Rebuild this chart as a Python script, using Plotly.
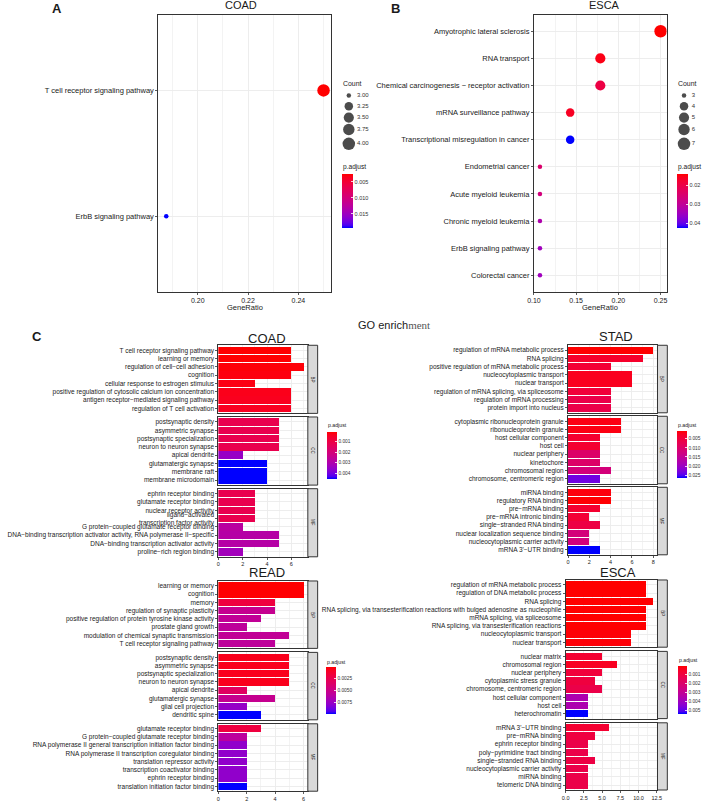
import math
import plotly.graph_objects as go

# ======================= DATA =======================
# Panel A - KEGG dot plot, COAD
a_terms = ["T cell receptor signaling pathway", "ErbB signaling pathway"]
a_ratio = [0.25, 0.1875]
a_count = [4, 3]
a_padj = [0.0025, 0.0194]
a_ratio_ticks = [0.20, 0.22, 0.24]
a_ratio_ticktext = ["0.20", "0.22", "0.24"]
a_count_breaks = [3.00, 3.25, 3.50, 3.75, 4.00]
a_count_labels = ["3.00", "3.25", "3.50", "3.75", "4.00"]
a_padj_ticks = [0.005, 0.010, 0.015]
a_padj_labels = ["0.005", "0.010", "0.015"]

# Panel B - KEGG dot plot, ESCA
b_terms = ["Amyotrophic lateral sclerosis", "RNA transport",
           "Chemical carcinogenesis − receptor activation", "mRNA surveillance pathway",
           "Transcriptional misregulation in cancer", "Endometrial cancer",
           "Acute myeloid leukemia", "Chronic myeloid leukemia",
           "ErbB signaling pathway", "Colorectal cancer"]
b_ratio = [0.25, 0.1786, 0.1786, 0.1429, 0.1429, 0.1071, 0.1071, 0.1071, 0.1071, 0.1071]
b_count = [7, 5, 5, 4, 4, 3, 3, 3, 3, 3]
b_padj = [0.0138, 0.0150, 0.0195, 0.0160, 0.0423, 0.0245, 0.0265, 0.0325, 0.0345, 0.0345]
b_ratio_ticks = [0.10, 0.15, 0.20, 0.25]
b_ratio_ticktext = ["0.10", "0.15", "0.20", "0.25"]
b_count_breaks = [3, 4, 5, 6, 7]
b_count_labels = ["3", "4", "5", "6", "7"]
b_padj_ticks = [0.02, 0.03, 0.04]
b_padj_labels = ["0.02", "0.03", "0.04"]

# Panel C - GO enrichment bar plots
coad_bp_terms = ["T cell receptor signaling pathway", "learning or memory",
                 "regulation of cell−cell adhesion", "cognition",
                 "cellular response to estrogen stimulus",
                 "positive regulation of cytosolic calcium ion concentration",
                 "antigen receptor−mediated signaling pathway", "regulation of T cell activation"]
coad_bp_count = [6, 6, 7, 6, 3, 6, 6, 6]
coad_bp_padj = [0.00013, 0.00015, 0.00020, 0.00025, 0.00030, 0.00035, 0.00040, 0.00045]
coad_cc_terms = ["postsynaptic density", "asymmetric synapse", "postsynaptic specialization",
                 "neuron to neuron synapse", "apical dendrite", "glutamatergic synapse",
                 "membrane raft", "membrane microdomain"]
coad_cc_count = [5, 5, 5, 5, 2, 4, 4, 4]
coad_cc_padj = [0.0012, 0.0012, 0.0012, 0.0012, 0.0035, 0.00456, 0.00456, 0.00456]
coad_mf_terms = ["ephrin receptor binding", "glutamate receptor binding", "nuclear receptor activity",
                 "ligand−activated<br>transcription factor activity",
                 "G protein−coupled glutamate receptor binding",
                 "DNA−binding transcription activator activity, RNA polymerase II−specific",
                 "DNA−binding transcription activator activity", "proline−rich region binding"]
coad_mf_count = [3, 3, 3, 3, 2, 5, 5, 2]
coad_mf_padj = [0.0012, 0.0012, 0.0012, 0.0012, 0.0028, 0.0029, 0.0029, 0.0033]
coad_x_ticks = [0, 2, 4, 6]
coad_x_ticktext = ["0", "2", "4", "6"]
coad_padj_ticks = [0.001, 0.002, 0.003, 0.004]
coad_padj_labels = ["0.001", "0.002", "0.003", "0.004"]

stad_bp_terms = ["regulation of mRNA metabolic process", "RNA splicing",
                 "positive regulation of mRNA metabolic process", "nucleocytoplasmic transport",
                 "nuclear transport", "regulation of mRNA splicing, via spliceosome",
                 "regulation of mRNA processing", "protein import into nucleus"]
stad_bp_count = [8, 7, 4, 6, 6, 4, 4, 4]
stad_bp_padj = [0.00087, 0.0035, 0.0045, 0.0025, 0.0025, 0.0050, 0.0065, 0.0065]
stad_cc_terms = ["cytoplasmic ribonucleoprotein granule", "ribonucleoprotein granule",
                 "host cellular component", "host cell", "nuclear periphery", "kinetochore",
                 "chromosomal region", "chromosome, centromeric region"]
stad_cc_count = [5, 5, 3, 3, 3, 3, 4, 3]
stad_cc_padj = [0.0018, 0.0018, 0.0040, 0.0040, 0.0100, 0.0100, 0.0120, 0.0235]
stad_mf_terms = ["miRNA binding", "regulatory RNA binding", "pre−mRNA binding",
                 "pre−mRNA intronic binding", "single−stranded RNA binding",
                 "nuclear localization sequence binding", "nucleocytoplasmic carrier activity",
                 "mRNA 3'−UTR binding"]
stad_mf_count = [4, 4, 3, 2, 3, 2, 2, 3]
stad_mf_padj = [0.0015, 0.0010, 0.0040, 0.0045, 0.0060, 0.0120, 0.0125, 0.0266]
stad_x_ticks = [0, 2, 4, 6, 8]
stad_x_ticktext = ["0", "2", "4", "6", "8"]
stad_padj_ticks = [0.005, 0.010, 0.015, 0.020, 0.025]
stad_padj_labels = ["0.005", "0.010", "0.015", "0.020", "0.025"]

read_bp_terms = ["learning or memory", "cognition", "memory", "regulation of synaptic plasticity",
                 "positive regulation of protein tyrosine kinase activity", "prostate gland growth",
                 "modulation of chemical synaptic transmission", "T cell receptor signaling pathway"]
read_bp_count = [6, 6, 4, 4, 3, 2, 5, 4]
read_bp_padj = [0.00005, 0.0001, 0.0018, 0.0052, 0.0055, 0.0057, 0.0055, 0.0057]
read_cc_terms = ["postsynaptic density", "asymmetric synapse", "postsynaptic specialization",
                 "neuron to neuron synapse", "apical dendrite", "glutamatergic synapse",
                 "glial cell projection", "dendritic spine"]
read_cc_count = [5, 5, 5, 5, 2, 4, 2, 3]
read_cc_padj = [0.0006, 0.0006, 0.0006, 0.0006, 0.0032, 0.0052, 0.0075, 0.0098]
read_mf_terms = ["glutamate receptor binding", "G protein−coupled glutamate receptor binding",
                 "RNA polymerase II general transcription initiation factor binding",
                 "RNA polymerase II transcription coregulator binding",
                 "translation repressor activity", "transcription coactivator binding",
                 "ephrin receptor binding", "translation initiation factor binding"]
read_mf_count = [3, 2, 2, 2, 2, 2, 2, 2]
read_mf_padj = [0.0018, 0.0058, 0.0077, 0.0077, 0.0077, 0.0077, 0.0077, 0.0098]
read_x_ticks = [0, 2, 4, 6]
read_x_ticktext = ["0", "2", "4", "6"]
read_padj_ticks = [0.0025, 0.0050, 0.0075]
read_padj_labels = ["0.0025", "0.0050", "0.0075"]

esca_bp_terms = ["regulation of mRNA metabolic process", "regulation of DNA metabolic process",
                 "RNA splicing",
                 "RNA splicing, via transesterification reactions with bulged adenosine as nucleophile",
                 "mRNA splicing, via spliceosome", "RNA splicing, via transesterification reactions",
                 "nucleocytoplasmic transport", "nuclear transport"]
esca_bp_count = [11, 11, 12, 11, 11, 11, 9, 9]
esca_bp_padj = [0.00002, 0.00003, 0.00002, 0.00003, 0.00003, 0.00003, 0.0001, 0.0001]
esca_cc_terms = ["nuclear matrix", "chromosomal region", "nuclear periphery",
                 "cytoplasmic stress granule", "chromosome, centromeric region",
                 "host cellular component", "host cell", "heterochromatin"]
esca_cc_count = [5, 7, 5, 4, 5, 3, 3, 3]
esca_cc_padj = [0.0007, 0.0004, 0.0009, 0.0010, 0.0012, 0.0036, 0.0036, 0.0054]
esca_mf_terms = ["mRNA 3'−UTR binding", "pre−mRNA binding", "ephrin receptor binding",
                 "poly−pyrimidine tract binding", "single−stranded RNA binding",
                 "nucleocytoplasmic carrier activity", "miRNA binding", "telomeric DNA binding"]
esca_mf_count = [6, 4, 3, 3, 4, 3, 3, 3]
esca_mf_padj = [0.0007, 0.0010, 0.0012, 0.0012, 0.0011, 0.0012, 0.0012, 0.0012]
esca_x_ticks = [0, 2.5, 5, 7.5, 10, 12.5]
esca_x_ticktext = ["0.0", "2.5", "5.0", "7.5", "10.0", "12.5"]
esca_padj_ticks = [0.001, 0.002, 0.003, 0.004, 0.005]
esca_padj_labels = ["0.001", "0.002", "0.003", "0.004", "0.005"]

ontologies = ["BP", "CC", "MF"]

# ======================= STYLE / LAYOUT =======================
W, H = 708, 802
FONT = "Liberation Sans, Arial, sans-serif"
TXT = "#1a1a1a"
GRID = "#EBEBEB"
BORDER = "#333333"


def PX(x):
    return x / W


def PY(y):
    return 1 - y / H


# ggplot-like gradient low="red" -> high="blue", interpolated in Lab
WHITE = (0.95047, 1.0, 1.08883)


def _lin(c):
    c = c / 255.0
    return c / 12.92 if c <= 0.04045 else ((c + 0.055) / 1.055) ** 2.4


def _gam(c):
    c = max(0.0, min(1.0, c))
    v = 12.92 * c if c <= 0.0031308 else 1.055 * c ** (1 / 2.4) - 0.055
    return int(round(v * 255))


def rgb2lab(rgb):
    r, g, b = (_lin(c) for c in rgb)
    X = 0.4124 * r + 0.3576 * g + 0.1805 * b
    Y = 0.2126 * r + 0.7152 * g + 0.0722 * b
    Z = 0.0193 * r + 0.1192 * g + 0.9505 * b

    def f(t):
        return t ** (1 / 3) if t > 0.008856 else 7.787 * t + 16 / 116
    fx_, fy_, fz_ = f(X / WHITE[0]), f(Y / WHITE[1]), f(Z / WHITE[2])
    return (116 * fy_ - 16, 500 * (fx_ - fy_), 200 * (fy_ - fz_))


def lab2rgb(lab):
    L, a, b = lab
    fy_ = (L + 16) / 116
    fx_ = fy_ + a / 500
    fz_ = fy_ - b / 200

    def finv(f):
        return f ** 3 if f ** 3 > 0.008856 else (f - 16 / 116) / 7.787
    X, Y, Z = finv(fx_) * WHITE[0], finv(fy_) * WHITE[1], finv(fz_) * WHITE[2]
    r = 3.2406 * X - 1.5372 * Y - 0.4986 * Z
    g = -0.9689 * X + 1.8758 * Y + 0.0415 * Z
    bb = 0.0557 * X - 0.2040 * Y + 1.0570 * Z
    return "rgb(%d,%d,%d)" % (_gam(r), _gam(g), _gam(bb))


LOW, HIGH = rgb2lab((255, 0, 0)), rgb2lab((0, 0, 255))
CSCALE = []
NST = 20
for i in range(NST + 1):
    s = i / NST
    t = 1 - s  # colour values are -p.adjust, so top of scale (s=1) = smallest p = red
    CSCALE.append([s, lab2rgb(tuple(LOW[j] + (HIGH[j] - LOW[j]) * t for j in range(3)))])

layout_axes = {}
traces = []
shapes = []
annotations = []
coloraxes = {}
_axis_counter = [0]


def new_axes(xdom, ydom, xopts, yopts):
    _axis_counter[0] += 1
    k = _axis_counter[0]
    sfx = "" if k == 1 else str(k)
    layout_axes["xaxis" + sfx] = dict(domain=[PX(xdom[0]), PX(xdom[1])], anchor="y" + sfx, **xopts)
    layout_axes["yaxis" + sfx] = dict(domain=[PY(ydom[1]), PY(ydom[0])], anchor="x" + sfx, **yopts)
    return "x" + sfx, "y" + sfx


def base_axis(fs):
    return dict(showline=True, mirror=True, linecolor=BORDER, linewidth=1,
                showgrid=True, gridcolor=GRID, gridwidth=0.9, zeroline=False,
                tickfont=dict(family=FONT, size=fs, color=TXT),
                ticks="outside", ticklen=2, tickcolor=BORDER, tickwidth=0.8,
                fixedrange=True)


def minor_vals(ticks, lo, hi):
    step = ticks[1] - ticks[0]
    cand = [ticks[0] - step / 2] + [t + step / 2 for t in ticks]
    return [v for v in cand if lo <= v <= hi]


def add_text(text, x, y, size, xanchor="center", bold=False, angle=0, color=TXT, family=FONT):
    annotations.append(dict(text=("<b>%s</b>" % text) if bold else text,
                            x=PX(x), y=PY(y), xref="paper", yref="paper",
                            xanchor=xanchor, yanchor="middle", showarrow=False,
                            textangle=angle, borderpad=0,
                            font=dict(family=family, size=size, color=color)))


def add_coloraxis(name, values, ticks, labels, box, fs):
    x0, x1, y0, y1 = box
    coloraxes[name] = dict(
        cmin=-max(values), cmax=-min(values), colorscale=CSCALE, showscale=True,
        colorbar=dict(x=PX(x0), xanchor="left", xpad=0, xref="paper",
                      y=PY(y0), yanchor="top", ypad=0, yref="paper",
                      len=y1 - y0, lenmode="pixels", thickness=x1 - x0, thicknessmode="pixels",
                      outlinewidth=0, tickvals=[-t for t in ticks], ticktext=labels,
                      ticks="inside", ticklen=2, tickcolor="white", tickwidth=0.8,
                      tickfont=dict(family=FONT, size=fs, color="#333333"),
                      title=dict(text="")))


def size_map(c, cmin, cmax):
    t = 0 if cmax == cmin else (c - cmin) / (cmax - cmin)
    return 4.5 + 8.0 * math.sqrt(max(t, 0))


def dot_panel(terms, ratio, count, padj, ticks, ticktext, box, cax):
    x0, x1, y0, y1 = box
    lo, hi = min(ratio), max(ratio)
    pad = 0.05 * (hi - lo)
    xr = [lo - pad, hi + pad]
    xo = base_axis(7)
    xo.update(range=xr, tickmode="array", tickvals=ticks, ticktext=ticktext,
              minor=dict(tickmode="array", tickvals=minor_vals(ticks, xr[0], xr[1]),
                         showgrid=True, gridcolor=GRID, gridwidth=0.6, ticks=""))
    yo = base_axis(7.5)
    n = len(terms)
    yo.update(type="category", categoryorder="array", categoryarray=terms,
              range=[n - 0.4, -0.6])
    xa, ya = new_axes((x0, x1), (y0, y1), xo, yo)
    cmin, cmax = min(count), max(count)
    traces.append(go.Scatter(
        x=ratio, y=terms, mode="markers", xaxis=xa, yaxis=ya, showlegend=False,
        hoverinfo="skip",
        marker=dict(size=[size_map(c, cmin, cmax) for c in count],
                    color=[-p for p in padj], coloraxis=cax, line=dict(width=0), opacity=1)))


def bar_plot(data, xticks, xticktext, xbox, strip, rows, cax):
    allcounts = [c for d in data for c in d[1]]
    xmax = max(allcounts) * 1.05
    for i, (terms, counts, padj) in enumerate(data):
        r0, r1 = rows[i]
        last = i == len(data) - 1
        xo = base_axis(5.5)
        xo.update(range=[0, xmax], tickmode="array", tickvals=xticks, ticktext=xticktext,
                  showticklabels=last, ticks="outside" if last else "",
                  minor=dict(tickmode="array", tickvals=minor_vals(xticks, 0, xmax),
                             showgrid=True, gridcolor=GRID, gridwidth=0.6, ticks=""))
        yo = base_axis(6.5)
        n = len(terms)
        yo.update(type="category", categoryorder="array", categoryarray=terms,
                  range=[n - 0.4, -0.6])
        xa, ya = new_axes(xbox, (r0, r1), xo, yo)
        traces.append(go.Bar(
            x=counts, y=terms, orientation="h", xaxis=xa, yaxis=ya, width=0.9,
            showlegend=False, hoverinfo="skip",
            marker=dict(color=[-p for p in padj], coloraxis=cax, line=dict(width=0))))
        shapes.append(dict(type="rect", xref="paper", yref="paper",
                           x0=PX(strip[0]), x1=PX(strip[1]), y0=PY(r1), y1=PY(r0),
                           fillcolor="#D9D9D9", line=dict(color=BORDER, width=1), layer="above"))
        add_text(ontologies[i], (strip[0] + strip[1]) / 2, (r0 + r1) / 2, 4.5, angle=90)


# ---------- Panel A ----------
add_coloraxis("coloraxis", a_padj, a_padj_ticks, a_padj_labels, (340.7, 351.7, 174, 228), 5.5)
dot_panel(a_terms, a_ratio, a_count, a_padj, a_ratio_ticks, a_ratio_ticktext,
          (154, 330, 15, 292), "coloraxis")
# ---------- Panel B ----------
add_coloraxis("coloraxis2", b_padj, b_padj_ticks, b_padj_labels, (681.7, 692.7, 174, 228), 5.5)
dot_panel(b_terms, b_ratio, b_count, b_padj, b_ratio_ticks, b_ratio_ticktext,
          (536, 671, 15, 292), "coloraxis2")

# ---------- Panel C ----------
add_coloraxis("coloraxis3", coad_bp_padj + coad_cc_padj + coad_mf_padj, coad_padj_ticks,
              coad_padj_labels, (326, 335.7, 432.7, 480), 4.8)
bar_plot([(coad_bp_terms, coad_bp_count, coad_bp_padj),
          (coad_cc_terms, coad_cc_count, coad_cc_padj),
          (coad_mf_terms, coad_mf_count, coad_mf_padj)],
         coad_x_ticks, coad_x_ticktext, (215, 306), (306, 316),
         [(345.7, 413.9), (417.5, 485.7), (489.3, 557.5)], "coloraxis3")

add_coloraxis("coloraxis4", stad_bp_padj + stad_cc_padj + stad_mf_padj, stad_padj_ticks,
              stad_padj_labels, (682, 691.7, 431.7, 479), 4.8)
bar_plot([(stad_bp_terms, stad_bp_count, stad_bp_padj),
          (stad_cc_terms, stad_cc_count, stad_cc_padj),
          (stad_mf_terms, stad_mf_count, stad_mf_padj)],
         stad_x_ticks, stad_x_ticktext, (570.7, 661.7), (661.7, 671.7),
         [(345.7, 413.3), (416.8, 484.4), (487.9, 555.5)], "coloraxis4")

add_coloraxis("coloraxis5", read_bp_padj + read_cc_padj + read_mf_padj, read_padj_ticks,
              read_padj_labels, (324.3, 334.3, 667.7, 715), 4.8)
bar_plot([(read_bp_terms, read_bp_count, read_bp_padj),
          (read_cc_terms, read_cc_count, read_cc_padj),
          (read_mf_terms, read_mf_count, read_mf_padj)],
         read_x_ticks, read_x_ticktext, (215, 306), (306, 316),
         [(581.7, 649.2), (653.2, 720.7), (724.7, 792.2)], "coloraxis5")

add_coloraxis("coloraxis6", esca_bp_padj + esca_cc_padj + esca_mf_padj, esca_padj_ticks,
              esca_padj_labels, (682.3, 691.7, 666.7, 714.3), 4.8)
bar_plot([(esca_bp_terms, esca_bp_count, esca_bp_padj),
          (esca_cc_terms, esca_cc_count, esca_cc_padj),
          (esca_mf_terms, esca_mf_count, esca_mf_padj)],
         esca_x_ticks, esca_x_ticktext, (568.3, 661.7), (661.7, 671.7),
         [(580.7, 648.0), (652.2, 719.5), (723.7, 791.0)], "coloraxis6")

# ---------- size legends (overlay axis in pixel units) ----------
key_y = [95.7, 106.3, 117.7, 129.7, 144]
ov = dict(visible=False, fixedrange=True, showgrid=False, zeroline=False)
xo_ov = dict(ov, range=[0, W])
yo_ov = dict(ov, range=[H, 0])
xa_ov, ya_ov = new_axes((0, W), (0, H), xo_ov, yo_ov)
for breaks, labels, kx, lx in [(a_count_breaks, a_count_labels, 347.7, 356.0),
                               (b_count_breaks, b_count_labels, 688.7, 696.5)]:
    cmin, cmax = min(breaks), max(breaks)
    traces.append(go.Scatter(
        x=[kx] * len(breaks), y=key_y, mode="markers", xaxis=xa_ov, yaxis=ya_ov,
        showlegend=False, hoverinfo="skip",
        marker=dict(size=[size_map(c, cmin, cmax) for c in breaks], color="black", line=dict(width=0))))
    traces.append(go.Scatter(
        x=[lx] * len(breaks), y=key_y, mode="text", text=labels, textposition="middle right",
        xaxis=xa_ov, yaxis=ya_ov, showlegend=False, hoverinfo="skip",
        textfont=dict(family=FONT, size=6.0, color="#333333")))

# ---------- text annotations ----------
add_text("A", 51.3, 8.7, 13, bold=True)
add_text("B", 395.7, 8.7, 13, bold=True)
add_text("C", 31, 337.3, 13, bold=True)
add_text("COAD", 238, 5.5, 11)
add_text("ESCA", 607.5, 5.5, 11)
add_text("GeneRatio", 242.5, 308, 7.5)
add_text("GeneRatio", 603, 308, 7.5)
add_text("Count", 341, 84, 6.9, xanchor="left")
add_text("Count", 681.7, 84, 6.9, xanchor="left")
add_text("p.adjust", 341, 167.7, 6.6, xanchor="left")
add_text("p.adjust", 681.7, 167.7, 6.6, xanchor="left")
add_text("p.adjust", 325.7, 426, 5.2, xanchor="left")
add_text("p.adjust", 682, 426, 5.2, xanchor="left")
add_text("p.adjust", 324.3, 662.7, 5.2, xanchor="left")
add_text("p.adjust", 682.3, 660.7, 5.2, xanchor="left")
add_text("COAD", 264, 338.5, 13)
add_text("STAD", 620, 337.3, 13)
add_text("READ", 264, 573.3, 13)
add_text("ESCA", 621.7, 573.3, 13)
annotations.append(dict(
    text="GO enrich<span style=\"font-family:'Liberation Serif', serif; fill:#555555\">ment</span>",
    x=PX(356), y=PY(325), xref="paper", yref="paper", xanchor="left", yanchor="middle",
    showarrow=False, borderpad=0, font=dict(family=FONT, size=11, color=TXT)))

fig = go.Figure(data=traces)
fig.update_layout(
    width=W, height=H, autosize=False,
    margin=dict(l=0, r=0, t=0, b=0, pad=0),
    paper_bgcolor="white", plot_bgcolor="rgba(0,0,0,0)",
    font=dict(family=FONT, color=TXT),
    hovermode=False, showlegend=False, bargap=0,
    shapes=shapes, annotations=annotations,
    **layout_axes, **coloraxes)
fig.write_html("out.html", config={"displayModeBar": False, "staticPlot": True},
               post_script="document.body.style.margin='0';document.body.style.overflow='hidden';")
